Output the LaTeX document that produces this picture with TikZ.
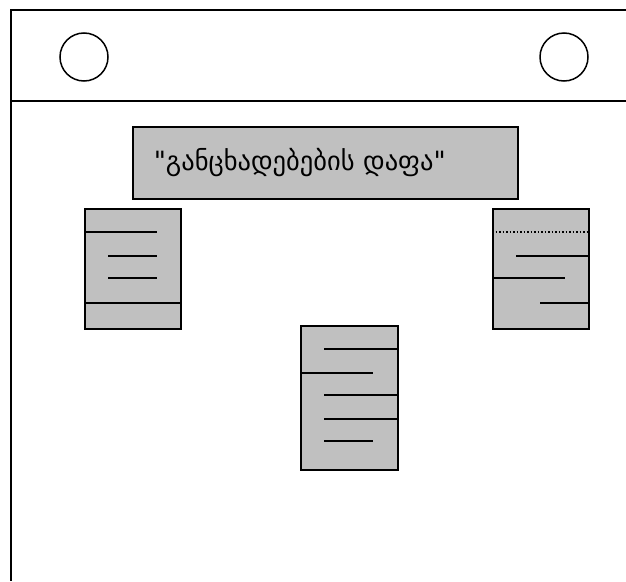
\documentclass[tikz,border=0pt]{standalone}
\usepackage{fontspec}
\usepackage{tikz}
\usetikzlibrary{positioning,calc}
\newfontfamily\geofont{DejaVu Sans}
\definecolor{BoardGray}{RGB}{192,192,192}

\begin{document}
\begin{tikzpicture}[x=1pt, y=-1pt, line width=1.5pt,
    sheet/.style={draw, fill=BoardGray, inner sep=0pt, anchor=north west},
    pin/.style={draw, circle, minimum size=48pt, inner sep=0pt}]
  \useasboundingbox (0,0) rectangle (626,581);
  % board frame (cut off at the right and at the bottom)
  \coordinate (tr) at (626,10);
  \coordinate (bl) at (11,581);
  \coordinate (dl) at (11,101);
  \coordinate (dr) at (626,101);
  \draw (tr) -| (bl);
  \draw (dl) -- (dr);
  \node[pin] (pinl) at (84,57) {};
  \node[pin] (pinr) at (564,57) {};
  % title
  \node[sheet, minimum width=385pt, minimum height=72pt] (title) at (132,126) {};
  \node[anchor=west, inner sep=0pt, font=\geofont\fontsize{26.5}{30}\selectfont] (caption)
    at ($(title.west)+(21,0)$) {"განცხადებების დაფა"};
  % left sheet
  \node[sheet, minimum width=96pt, minimum height=120pt] (lsheet) at (84,208) {};
  \draw (84,232) -- (157,232);
  \draw (108,256) -- (157,256);
  \draw (108,278) -- (157,278);
  \draw (84,303) -- (180,303);
  % right sheet
  \node[sheet, minimum width=96pt, minimum height=120pt] (rsheet) at (492,208) {};
  \draw[dotted] (492,232) -- (588,232);
  \draw (516,256) -- (588,256);
  \draw (492,278) -- (565,278);
  \draw (540,303) -- (588,303);
  % middle sheet
  \node[sheet, minimum width=97pt, minimum height=144pt] (msheet) at (300,325) {};
  \draw (324,349) -- (397,349);
  \draw (300,373) -- (373,373);
  \draw (324,395) -- (397,395);
  \draw (324,419) -- (397,419);
  \draw (324,441) -- (373,441);
\end{tikzpicture}
\end{document}
